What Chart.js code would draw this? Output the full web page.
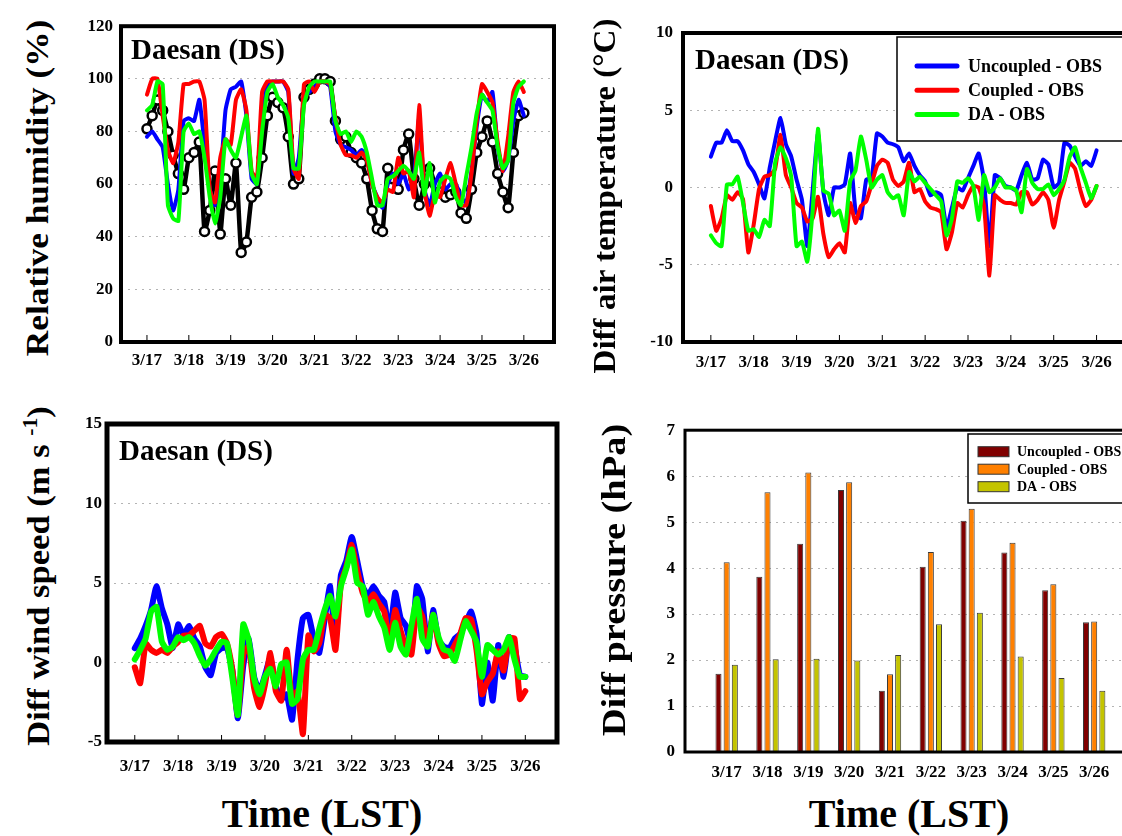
<!DOCTYPE html>
<html>
<head>
<meta charset="utf-8">
<script src="https://cdn.jsdelivr.net/npm/chart.js"></script>
<style>
  body { margin: 0; width: 1122px; height: 836px; overflow: hidden; background: #fff; position: relative;
         font-family: 'Liberation Serif', 'Times New Roman', serif; }
  canvas { position: absolute; }
  .lbl { position: absolute; font-weight: bold; white-space: nowrap; color: #000; line-height: 1; }
  .xtitle { transform: translate(-50%, -50%); font-size: 40px; }
  .station { font-size: 29px; }
</style>
</head>
<body>
<canvas id="rh" width="505" height="380" style="left:60px;top:8px"></canvas>
<canvas id="ta" width="510" height="380" style="left:620px;top:8px"></canvas>
<canvas id="ws" width="505" height="380" style="left:60px;top:405px"></canvas>
<canvas id="ps" width="510" height="380" style="left:620px;top:410px"></canvas>

<div class="lbl station" style="left:131px;top:35px">Daesan (DS)</div>
<div class="lbl station" style="left:695px;top:45px">Daesan (DS)</div>
<div class="lbl station" style="left:119px;top:436px">Daesan (DS)</div>

<div class="lbl" style="left:37px;top:188px;font-size:32px;transform:translate(-50%,-50%) rotate(-90deg) scaleX(1.1)">Relative humidity (%)</div>
<div class="lbl" style="left:604px;top:196px;font-size:32px;transform:translate(-50%,-50%) rotate(-90deg) scaleX(1.035)">Diff air temperature (&deg;C)</div>
<div class="lbl" style="left:37px;top:576px;font-size:32px;transform:translate(-50%,-50%) rotate(-90deg) scaleX(1.08)">Diff wind speed (m s <sup style="font-size:20px">-1</sup>)</div>
<div class="lbl" style="left:614px;top:580px;font-size:33px;transform:translate(-50%,-50%) rotate(-90deg) scaleX(1.165)">Diff pressure (hPa)</div>

<div class="lbl xtitle" style="left:322px;top:814px">Time (LST)</div>
<div class="lbl xtitle" style="left:909px;top:814px">Time (LST)</div>

<script>
// dates on the time axis, hours since 3/17 00 LST
const days = ['3/17', '3/18', '3/19', '3/20', '3/21', '3/22', '3/23', '3/24', '3/25', '3/26'];
const hours = [0, 3, 6, 9, 12, 15, 18, 21, 24, 27, 30, 33, 36, 39, 42, 45, 48, 51, 54, 57,
  60, 63, 66, 69, 72, 75, 78, 81, 84, 87, 90, 93, 96, 99, 102, 105, 108, 111, 114, 117,
  120, 123, 126, 129, 132, 135, 138, 141, 144, 147, 150, 153, 156, 159, 162, 165, 168, 171, 174, 177,
  180, 183, 186, 189, 192, 195, 198, 201, 204, 207, 210, 213, 216];

// relative humidity (%)
const rhObs = [81, 86, 92, 88, 80, 71, 64, 58, 70, 72, 76, 42, 50, 65, 41, 62, 52, 68, 34, 38,
  55, 57, 70, 86, 93, 91, 89, 78, 60, 62, 93, 96, 98, 100, 100, 99, 84, 77, 78, 72,
  70, 68, 62, 50, 43, 42, 66, 62, 58, 73, 79, 62, 52, 60, 66, 60, 57, 55, 56, 57,
  49, 47, 58, 72, 78, 84, 76, 64, 57, 51, 72, 86, 87];
const rhUncoupled = [78, 80, 77, 74, 60, 50, 58, 84, 85, 84, 92, 75, 58, 52, 62, 88, 96, 97, 99, 86,
  62, 60, 85, 98, 99, 99, 99, 95, 64, 70, 93, 95, 97, 99, 99, 97, 80, 75, 74, 73,
  71, 73, 70, 60, 55, 51, 60, 64, 60, 64, 58, 62, 85, 58, 52, 60, 64, 58, 60, 60,
  55, 53, 65, 82, 94, 91, 95, 74, 65, 69, 84, 92, 86];
const rhCoupled = [94, 100, 100, 86, 73, 68, 76, 98, 98, 99, 99, 92, 58, 53, 70, 77, 75, 92, 96, 88,
  65, 62, 95, 99, 99, 99, 99, 96, 66, 62, 98, 99, 95, 99, 99, 98, 85, 75, 71, 71,
  70, 72, 69, 60, 55, 53, 58, 57, 70, 64, 65, 55, 90, 58, 48, 56, 55, 62, 68, 60,
  52, 52, 64, 84, 98, 95, 91, 76, 65, 78, 95, 99, 95];
const rhDA = [88, 90, 99, 98, 52, 47, 46, 80, 83, 79, 80, 70, 55, 45, 55, 77, 73, 70, 78, 86,
  64, 60, 80, 95, 98, 93, 90, 85, 66, 66, 90, 97, 99, 99, 99, 99, 84, 79, 80, 76,
  80, 78, 72, 62, 52, 52, 62, 63, 65, 67, 65, 62, 72, 56, 68, 53, 61, 63, 62, 55,
  52, 63, 74, 87, 94, 91, 88, 74, 66, 69, 91, 97, 99];

// air temperature difference (degC)
const taUncoupled = [2.0, 2.9, 2.9, 3.7, 3.0, 3.0, 2.4, 1.5, 1.0, 0.2, -0.7, 1.3, 3.0, 4.5, 2.8, 2.0, 0.5, -0.8, -3.8, -0.2,
  3.5, -0.3, -1.8, 0.0, 0.0, 0.2, 2.2, -1.5, -2.0, 0.5, 0.6, 3.5, 3.3, 2.9, 2.8, 2.6, 1.7, 2.2, 1.4, 0.8,
  0.4, -0.5, -0.3, -0.5, -2.6, -1.3, 0.0, -0.2, 0.6, 1.4, 2.2, 0.4, -3.8, 0.8, 0.6, 0.1, 0.0, -0.2, 0.8, 1.6,
  0.5, 0.6, 1.8, 1.5, 0.0, 0.3, 2.9, 2.7, 2.0, 1.4, 1.7, 1.4, 2.4];
const taCoupled = [-1.2, -2.8, -2.0, -0.5, -0.8, -0.3, -0.75, -4.2, -2.4, -0.1, 0.7, 0.8, 1.2, 3.4, 0.8, 0.0, -1.0, -1.3, -2.2, -2.0,
  -0.6, -3.0, -4.5, -4.0, -3.6, -4.2, -1.0, -2.3, -1.2, -0.9, 0.2, 1.4, 1.8, 1.6, 0.5, 0.1, 0.4, 1.6, -0.3, -0.1,
  -0.9, -1.3, -1.4, -1.6, -4.0, -2.9, -1.0, -1.3, -0.5, 0.1, 0.0, -1.2, -5.7, -0.5, -0.8, -1.0, -1.0, -1.1, -0.3, -0.3,
  -1.1, -0.8, -0.3, -0.8, -2.6, -0.8, 0.4, 1.6, 1.2, -0.2, -1.2, -0.8, 0.1];
const taDA = [-3.1, -3.6, -3.8, 0.2, 0.2, 0.7, -1.0, -2.8, -2.7, -3.2, -2.1, -2.5, 1.6, 2.6, 1.9, 0.7, -3.8, -3.5, -4.8, -1.5,
  3.8, -0.2, -0.4, -1.8, -1.5, -2.8, 0.4, 1.1, 3.3, 1.8, 0.0, 0.5, 0.8, -0.3, -0.7, -0.5, -1.8, 1.0, 0.4, 0.7,
  0.3, -0.1, -0.5, -0.9, -3.1, -2.0, 0.4, 0.3, 0.6, 0.1, -2.1, 0.8, -0.3, 0.0, 0.6, 0.0, 0.0, -0.2, -1.6, 1.2,
  0.3, -0.1, -0.1, 0.2, -0.5, -0.1, 0.5, 2.0, 2.6, 1.3, 0.3, -0.7, 0.1];

// wind speed difference (m/s)
const wsUncoupled = [0.9, 1.5, 2.3, 3.3, 4.8, 3.4, 2.4, 0.9, 2.4, 1.7, 2.3, 1.5, 1.0, -0.3, -0.8, 0.6, 0.9, 0.9, -0.5, -3.5,
  -0.2, 1.5, -0.9, -1.8, -0.8, 0.3, -1.5, -2.3, -2.0, -3.6, 0.2, 2.8, 3.0, 1.5, 0.6, 2.7, 4.8, 1.3, 5.5, 6.4,
  7.9, 6.4, 4.8, 4.2, 4.8, 4.2, 3.8, 1.8, 4.4, 2.8, 2.3, 1.0, 4.8, 4.0, 0.7, 3.3, 1.4, 1.0, 0.9, 1.5,
  1.8, 2.5, 3.2, 1.8, -2.6, 0.0, -2.4, 1.1, -0.9, 1.6, 1.0, -0.8, -0.9];
const wsCoupled = [-0.3, -1.3, 1.2, 0.8, 0.6, 0.8, 0.6, 1.0, 1.3, 1.7, 1.7, 2.0, 2.3, 1.2, 1.0, 1.6, 1.8, 1.2, -0.5, -3.3,
  0.5, 1.0, -1.6, -2.8, -1.4, 0.6, -1.8, -2.4, 0.8, -2.4, -1.8, -4.5, 1.7, 0.7, 1.2, 3.0, 2.8, 0.8, 5.0, 6.0,
  7.4, 5.8, 4.4, 3.8, 4.3, 3.7, 3.2, 1.2, 3.3, 2.0, 1.0, 0.5, 3.5, 2.9, 1.1, 3.0, 1.2, 0.4, 0.5, 1.1,
  1.8, 2.8, 2.7, 0.8, -2.0, -1.2, -0.7, 0.7, -0.5, 1.5, 1.5, -2.3, -1.8];
const wsDA = [0.2, 0.8, 1.5, 3.2, 3.5, 1.3, 0.8, 1.0, 1.6, 1.4, 1.6, 1.2, 0.4, -0.2, 0.2, 0.8, 1.3, 1.2, -1.0, -3.3,
  2.4, 1.4, -1.0, -2.0, -0.9, -0.4, -1.5, -0.1, 0.0, -2.6, -2.3, 0.2, 0.8, 0.8, 2.1, 3.3, 4.2, 2.9, 4.8, 5.9,
  7.1, 5.0, 4.8, 3.0, 3.8, 2.9, 2.2, 0.8, 2.5, 1.0, 0.5, 2.3, 4.0, 1.5, 1.0, 3.0, 1.6, 0.8, 0.7, 0.1,
  1.4, 2.6, 2.0, 1.3, -0.9, 1.1, 0.8, 0.5, 0.8, 1.6, 0.2, -0.9, -0.9];

// daily pressure difference (hPa)
const psUncoupled = [1.70, 3.81, 4.53, 5.70, 1.33, 4.03, 5.03, 4.34, 3.52, 2.82];
const psCoupled = [4.13, 5.65, 6.08, 5.87, 1.69, 4.35, 5.29, 4.55, 3.65, 2.84];
const psDA = [1.90, 2.02, 2.03, 1.99, 2.11, 2.78, 3.03, 2.08, 1.61, 1.33];

const SERIF = "'Liberation Serif', 'Times New Roman', serif";
const tickFont = { family: SERIF, size: 17, weight: 'bold' };

const series = (vals) => vals.map((v, i) => ({ x: hours[i] / 24, y: v }));

// thick box around the plot area, plus small day ticks on the bottom edge
const framePlugin = {
  id: 'frame',
  afterDatasetsDraw(chart, args, o) {
    const { ctx, chartArea: a } = chart;
    ctx.save();
    if (o.dayTicks) {
      const xs = chart.scales.x;
      ctx.strokeStyle = '#000';
      ctx.lineWidth = 1;
      xs.ticks.forEach(t => {
        const px = xs.getPixelForValue(t.value);
        ctx.beginPath();
        ctx.moveTo(px, a.bottom);
        ctx.lineTo(px, a.bottom - 7);
        ctx.stroke();
      });
    }
    ctx.strokeStyle = '#000';
    ctx.lineWidth = o.width;
    ctx.strokeRect(a.left, a.top, a.right - a.left, a.bottom - a.top);
    ctx.restore();
  }
};

// boxed legend (line or filled swatches)
const boxLegend = {
  id: 'boxLegend',
  afterDraw(chart, args, o) {
    if (!o.show) return;
    const ctx = chart.ctx;
    ctx.save();
    ctx.fillStyle = '#fff';
    ctx.fillRect(o.x, o.y, o.w, o.h);
    ctx.strokeStyle = '#000';
    ctx.lineWidth = 1.5;
    ctx.strokeRect(o.x, o.y, o.w, o.h);
    ctx.font = `bold ${o.size}px ${SERIF}`;
    ctx.textBaseline = 'middle';
    chart.data.datasets.forEach((d, i) => {
      const cy = o.y + o.first + i * o.step;
      if (o.swatch === 'line') {
        ctx.strokeStyle = d.borderColor;
        ctx.lineWidth = 5;
        ctx.lineCap = 'round';
        ctx.beginPath();
        ctx.moveTo(o.sx, cy);
        ctx.lineTo(o.sx + o.sw, cy);
        ctx.stroke();
      } else {
        ctx.fillStyle = d.backgroundColor;
        ctx.fillRect(o.sx, cy - 5, o.sw, 10);
        ctx.strokeStyle = '#333';
        ctx.lineWidth = 1;
        ctx.strokeRect(o.sx, cy - 5, o.sw, 10);
      }
      ctx.fillStyle = '#000';
      ctx.fillText(d.label, o.tx, cy + 1);
    });
    ctx.restore();
  }
};

Chart.register(framePlugin, boxLegend);

function axes(cfg) {
  return {
    x: {
      type: 'linear', min: cfg.xMin, max: cfg.xMax, offset: false,
      afterBuildTicks: s => { s.ticks = days.map((d, i) => ({ value: i })); },
      afterFit: s => { s.height = cfg.xh; },
      grid: { display: false, offset: false },
      border: { display: false },
      ticks: { callback: v => days[v], font: tickFont, color: '#000', padding: cfg.xpad, maxRotation: 0, autoSkip: false }
    },
    y: {
      min: cfg.yMin, max: cfg.yMax,
      afterFit: s => { s.width = cfg.yw; },
      grid: { color: '#b4b4b4', drawTicks: false, lineWidth: 1 },
      border: { display: false, dash: [2, 5] },
      ticks: { stepSize: cfg.step, font: tickFont, color: '#000', padding: cfg.ypad }
    }
  };
}

function baseOptions(cfg) {
  return {
    responsive: false,
    animation: false,
    events: [],
    layout: { padding: { top: cfg.top, right: cfg.right, left: 0, bottom: 0 } },
    plugins: {
      legend: { display: false },
      tooltip: { enabled: false },
      frame: { width: cfg.frame, dayTicks: cfg.dayTicks },
      boxLegend: cfg.legend || { show: false }
    },
    scales: axes(cfg)
  };
}

function line(label, vals, color, width, order) {
  return {
    label, data: series(vals), borderColor: color, backgroundColor: color,
    borderWidth: width, pointRadius: 0, tension: 0.15, order,
    borderJoinStyle: 'round', borderCapStyle: 'round'
  };
}

// relative humidity
new Chart(document.getElementById('rh'), {
  type: 'line',
  data: {
    datasets: [
      line('Uncoupled', rhUncoupled, '#0000ff', 4, 3),
      line('Coupled', rhCoupled, '#ff0000', 4, 2),
      line('DA', rhDA, '#00ff00', 4, 1),
      Object.assign(line('OBS', rhObs, '#000', 4.5, 4), {
        pointRadius: 4.5, pointBorderWidth: 2.5, pointBackgroundColor: '#fff', pointBorderColor: '#000'
      })
    ]
  },
  options: baseOptions({ xMin: -0.62, xMax: 9.72, yMin: 0, yMax: 120, step: 20,
    top: 15, right: 11, xh: 46, yw: 61, xpad: 0, ypad: 8, frame: 4, dayTicks: true })
});

// air temperature difference
new Chart(document.getElementById('ta'), {
  type: 'line',
  data: {
    datasets: [
      line('Uncoupled - OBS', taUncoupled, '#0000ff', 4, 3),
      line('Coupled - OBS', taCoupled, '#ff0000', 4, 2),
      line('DA - OBS', taDA, '#00ff00', 4, 1)
    ]
  },
  options: baseOptions({ xMin: -0.65, xMax: 9.64, yMin: -10, yMax: 10, step: 5,
    top: 25, right: 6, xh: 46, yw: 63, xpad: 2, ypad: 10, frame: 4, dayTicks: true,
    legend: { show: true, x: 277, y: 29, w: 260, h: 104, first: 29, step: 24.3,
      swatch: 'line', sx: 297, sw: 40, tx: 348, size: 18 } })
});

// wind speed difference
new Chart(document.getElementById('ws'), {
  type: 'line',
  data: {
    datasets: [
      line('Uncoupled - OBS', wsUncoupled, '#0000ff', 6, 3),
      line('Coupled - OBS', wsCoupled, '#ff0000', 6, 2),
      line('DA - OBS', wsDA, '#00ff00', 6, 1)
    ]
  },
  options: baseOptions({ xMin: -0.64, xMax: 9.73, yMin: -5, yMax: 15, step: 5,
    top: 19, right: 8, xh: 43, yw: 47, xpad: 6, ypad: 5, frame: 5, dayTicks: true })
});

// pressure difference bars
const bars = (label, vals, color) => ({
  label, data: vals.map((v, i) => ({ x: i, y: v })),
  backgroundColor: color, borderColor: '#3a3a3a', borderWidth: 1,
  categoryPercentage: 0.6, barPercentage: 0.74
});

new Chart(document.getElementById('ps'), {
  type: 'bar',
  data: {
    datasets: [
      bars('Uncoupled - OBS', psUncoupled, '#800000'),
      bars('Coupled - OBS', psCoupled, '#ff8000'),
      bars('DA - OBS', psDA, '#c4c400')
    ]
  },
  options: baseOptions({ xMin: -1.02, xMax: 9.73, yMin: 0, yMax: 7, step: 1,
    top: 19, right: 6, xh: 38, yw: 65, xpad: 2, ypad: 10, frame: 3, dayTicks: false,
    legend: { show: true, x: 348, y: 24, w: 200, h: 69, first: 17.7, step: 17.5,
      swatch: 'box', sx: 358, sw: 31, tx: 397, size: 14 } })
});
</script>
</body>
</html>
